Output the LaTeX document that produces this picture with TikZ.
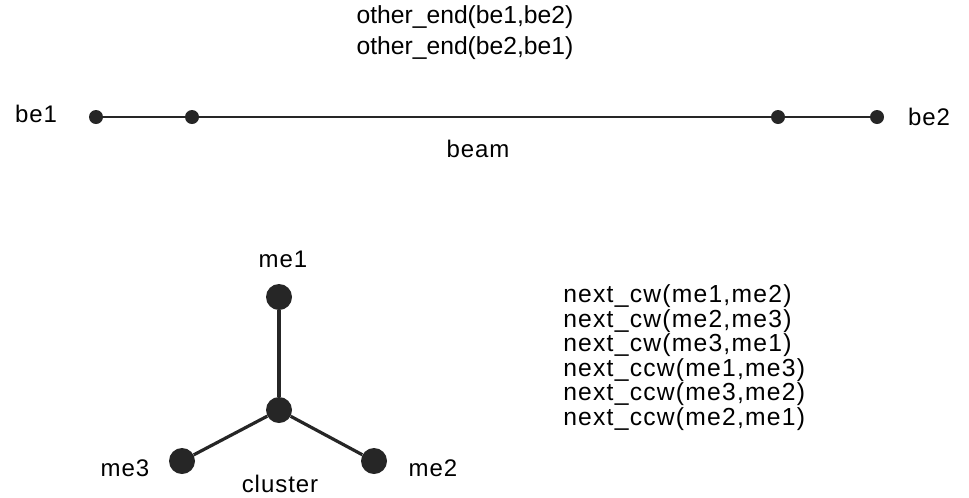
\documentclass[tikz,border=0pt]{standalone}
\usepackage{fontspec}
\setmainfont{Liberation Sans}
\begin{document}
\begin{tikzpicture}[x=0.75pt,y=-0.75pt,
  lbl/.style={inner sep=0pt,font=\addfontfeatures{LetterSpace=4}\fontsize{18}{20}\selectfont},
  tlbl/.style={inner sep=0pt,font=\fontsize{18.5}{20}\selectfont},
  rlbl/.style={inner sep=0pt,anchor=west,font=\addfontfeatures{LetterSpace=5}\fontsize{18.5}{20}\selectfont},
  sdot/.style={circle,fill=black!85,inner sep=0pt,minimum size=10.5pt},
  bdot/.style={circle,fill=black!85,inner sep=0pt,minimum size=19.5pt},
  edge/.style={line width=1.6pt,black!85},
  cedge/.style={line width=2.4pt,black!85}]
\useasboundingbox (0,0) rectangle (969,497);
% beam
\node[tlbl] (t1) at (465,17) {other\_end(be1,be2)};
\node[tlbl] (t2) at (465,48) {other\_end(be2,be1)};
\node[sdot] (b1) at (96,117) {};
\node[sdot] (b2) at (192,117) {};
\node[sdot] (b3) at (778,117) {};
\node[sdot] (b4) at (877,117) {};
\draw[edge] (b1) -- (b2) -- (b3) -- (b4);
\node[lbl] (be1) at (36,114) {be1};
\node[lbl] (be2) at (929,117) {be2};
\node[lbl] (beam) at (478,149) {beam};
% cluster
\node[bdot] (m1) at (279,297) {};
\node[bdot] (c) at (279,410) {};
\node[bdot] (m3) at (182,461) {};
\node[bdot] (m2) at (374,461) {};
\draw[cedge] (c) -- (m1);
\draw[cedge] (c) -- (m3);
\draw[cedge] (c) -- (m2);
\node[lbl] (me1) at (283,259) {me1};
\node[lbl] (me3) at (125,468) {me3};
\node[lbl] (me2) at (433,468) {me2};
\node[lbl] (cl) at (280,484) {cluster};
% relations
\node[rlbl] (r1) at (563,296) {next\_cw(me1,me2)};
\node[rlbl] (r2) at (563,321) {next\_cw(me2,me3)};
\node[rlbl] (r3) at (563,345) {next\_cw(me3,me1)};
\node[rlbl] (r4) at (563,370) {next\_ccw(me1,me3)};
\node[rlbl] (r5) at (563,394) {next\_ccw(me3,me2)};
\node[rlbl] (r6) at (563,419) {next\_ccw(me2,me1)};
\end{tikzpicture}
\end{document}
